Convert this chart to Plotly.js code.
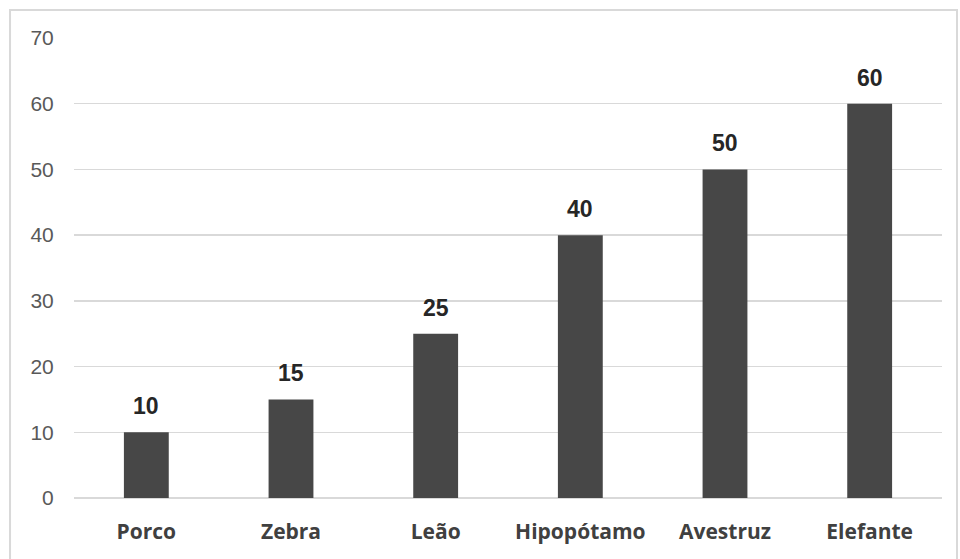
<!DOCTYPE html>
<html>
<head>
<meta charset="utf-8">
<script src="https://cdn.plot.ly/plotly-3.0.1.min.js"></script>
<style>html,body{margin:0;padding:0;background:#fff;}#chart{width:960px;height:559px;}</style>
</head>
<body>
<div id="chart"></div>
<script>
const categories = ['Porco', 'Zebra', 'Leão', 'Hipopótamo', 'Avestruz', 'Elefante'];
const values = [10, 15, 25, 40, 50, 60];
const yTicks = [0, 10, 20, 30, 40, 50, 60, 70];

const trace = {
  type: 'bar',
  x: categories,
  y: values,
  width: 0.31,
  marker: {color: '#474747'},
  hoverinfo: 'none'
};

const annotations = categories.map((c, i) => ({
  x: c, y: values[i], xref: 'x', yref: 'y',
  text: String(values[i]), showarrow: false,
  yanchor: 'bottom', yshift: 11,
  font: {family: 'Liberation Sans', size: 23, weight: 'bold', color: '#262626'}
}));

const layout = {
  width: 960, height: 559,
  margin: {l: 74, r: 18, t: 38, b: 61},
  paper_bgcolor: '#fff', plot_bgcolor: '#fff',
  showlegend: false,
  xaxis: {
    type: 'category',
    showgrid: false, zeroline: false, showline: false,
    ticks: 'outside', ticklen: 15, tickcolor: 'rgba(0,0,0,0)',
    tickfont: {family: 'Open Sans', size: 21, weight: 'bold', color: '#404040'}
  },
  yaxis: {
    range: [0, 70], tickvals: yTicks,
    showgrid: true, gridcolor: '#d9d9d9', gridwidth: 1.5,
    zeroline: true, zerolinecolor: '#d9d9d9', zerolinewidth: 1.5,
    showline: false,
    ticks: 'outside', ticklen: 15, tickcolor: 'rgba(0,0,0,0)',
    tickfont: {family: 'Liberation Sans', size: 21, color: '#595959'}
  },
  annotations: annotations,
  shapes: [{
    type: 'rect', xref: 'paper', yref: 'paper',
    x0: -0.0737, x1: 1.0173, y0: -0.3, y1: 1.0609,
    line: {color: '#d9d9d9', width: 2}, fillcolor: 'rgba(0,0,0,0)', layer: 'below'
  }]
};

Plotly.newPlot('chart', [trace], layout, {displayModeBar: false, staticPlot: true});
</script>
</body>
</html>
